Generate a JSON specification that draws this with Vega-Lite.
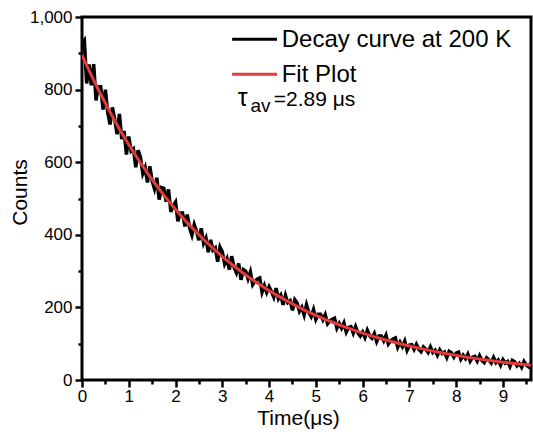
{
  "$schema": "https://vega.github.io/schema/vega-lite/v6.json",
  "width": 449,
  "height": 363,
  "autosize": {"type": "none"},
  "padding": {"left": 82, "top": 17, "right": 2, "bottom": 56},
  "background": "white",
  "config": {
    "font": "Liberation Sans",
    "view": {"stroke": "black", "strokeWidth": 3},
    "axis": {"grid": false, "domain": false, "tickColor": "black", "tickWidth": 2.5, "labelColor": "black", "titleColor": "black", "labelFont": "Liberation Sans", "titleFont": "Liberation Sans", "titleFontWeight": "normal"}
  },
  "datasets": {
    "decay": [
      {"t":0.00,"counts":928},{"t":0.05,"counts":936},{"t":0.10,"counts":817},{"t":0.15,"counts":869},{"t":0.20,"counts":812},{"t":0.25,"counts":870},{"t":0.30,"counts":770},{"t":0.35,"counts":808},{"t":0.40,"counts":808},{"t":0.45,"counts":745},
      {"t":0.50,"counts":800},{"t":0.55,"counts":737},{"t":0.60,"counts":704},{"t":0.65,"counts":751},{"t":0.70,"counts":718},{"t":0.75,"counts":677},{"t":0.80,"counts":733},{"t":0.85,"counts":664},{"t":0.90,"counts":686},{"t":0.95,"counts":621},
      {"t":1.00,"counts":671},{"t":1.05,"counts":631},{"t":1.10,"counts":637},{"t":1.15,"counts":586},{"t":1.20,"counts":633},{"t":1.25,"counts":614},{"t":1.30,"counts":569},{"t":1.35,"counts":585},{"t":1.40,"counts":544},{"t":1.45,"counts":589},
      {"t":1.50,"counts":548},{"t":1.55,"counts":527},{"t":1.60,"counts":557},{"t":1.65,"counts":497},{"t":1.70,"counts":530},{"t":1.75,"counts":528},{"t":1.80,"counts":491},{"t":1.85,"counts":525},{"t":1.90,"counts":463},{"t":1.95,"counts":480},
      {"t":2.00,"counts":490},{"t":2.05,"counts":437},{"t":2.10,"counts":460},{"t":2.15,"counts":460},{"t":2.20,"counts":423},{"t":2.25,"counts":456},{"t":2.30,"counts":419},{"t":2.35,"counts":399},{"t":2.40,"counts":428},{"t":2.45,"counts":409},
      {"t":2.50,"counts":385},{"t":2.55,"counts":418},{"t":2.60,"counts":377},{"t":2.65,"counts":391},{"t":2.70,"counts":352},{"t":2.75,"counts":386},{"t":2.80,"counts":358},{"t":2.85,"counts":364},{"t":2.90,"counts":326},{"t":2.95,"counts":366},
      {"t":3.00,"counts":353},{"t":3.05,"counts":320},{"t":3.10,"counts":334},{"t":3.15,"counts":304},{"t":3.20,"counts":341},{"t":3.25,"counts":311},{"t":3.30,"counts":296},{"t":3.35,"counts":321},{"t":3.40,"counts":276},{"t":3.45,"counts":304},
      {"t":3.50,"counts":300},{"t":3.55,"counts":279},{"t":3.60,"counts":298},{"t":3.65,"counts":263},{"t":3.70,"counts":273},{"t":3.75,"counts":278},{"t":3.80,"counts":281},{"t":3.85,"counts":242},{"t":3.90,"counts":260},{"t":3.95,"counts":241},
      {"t":4.00,"counts":257},{"t":4.05,"counts":244},{"t":4.10,"counts":228},{"t":4.15,"counts":253},{"t":4.20,"counts":224},{"t":4.25,"counts":234},{"t":4.30,"counts":207},{"t":4.35,"counts":233},{"t":4.40,"counts":213},{"t":4.45,"counts":218},
      {"t":4.50,"counts":192},{"t":4.55,"counts":221},{"t":4.60,"counts":212},{"t":4.65,"counts":189},{"t":4.70,"counts":200},{"t":4.75,"counts":179},{"t":4.80,"counts":207},{"t":4.85,"counts":186},{"t":4.90,"counts":175},{"t":4.95,"counts":194},
      {"t":5.00,"counts":167},{"t":5.05,"counts":181},{"t":5.10,"counts":181},{"t":5.15,"counts":166},{"t":5.20,"counts":180},{"t":5.25,"counts":155},{"t":5.30,"counts":163},{"t":5.35,"counts":167},{"t":5.40,"counts":170},{"t":5.45,"counts":143},
      {"t":5.50,"counts":156},{"t":5.55,"counts":143},{"t":5.60,"counts":157},{"t":5.65,"counts":132},{"t":5.70,"counts":145},{"t":5.75,"counts":147},{"t":5.80,"counts":129},{"t":5.85,"counts":147},{"t":5.90,"counts":130},{"t":5.95,"counts":121},
      {"t":6.00,"counts":132},{"t":6.05,"counts":117},{"t":6.10,"counts":137},{"t":6.15,"counts":122},{"t":6.20,"counts":115},{"t":6.25,"counts":128},{"t":6.30,"counts":106},{"t":6.35,"counts":121},{"t":6.40,"counts":121},{"t":6.45,"counts":108},
      {"t":6.50,"counts":123},{"t":6.55,"counts":99},{"t":6.60,"counts":108},{"t":6.65,"counts":113},{"t":6.70,"counts":116},{"t":6.75,"counts":90},{"t":6.80,"counts":104},{"t":6.85,"counts":92},{"t":6.90,"counts":107},{"t":6.95,"counts":82},
      {"t":7.00,"counts":96},{"t":7.05,"counts":97},{"t":7.10,"counts":84},{"t":7.15,"counts":98},{"t":7.20,"counts":85},{"t":7.25,"counts":78},{"t":7.30,"counts":91},{"t":7.35,"counts":85},{"t":7.40,"counts":76},{"t":7.45,"counts":91},
      {"t":7.50,"counts":76},{"t":7.55,"counts":82},{"t":7.60,"counts":68},{"t":7.65,"counts":83},{"t":7.70,"counts":73},{"t":7.75,"counts":77},{"t":7.80,"counts":62},{"t":7.85,"counts":79},{"t":7.90,"counts":75},{"t":7.95,"counts":63},
      {"t":8.00,"counts":74},{"t":8.05,"counts":77},{"t":8.10,"counts":57},{"t":8.15,"counts":68},{"t":8.20,"counts":59},{"t":8.25,"counts":71},{"t":8.30,"counts":52},{"t":8.35,"counts":63},{"t":8.40,"counts":65},{"t":8.45,"counts":52},
      {"t":8.50,"counts":67},{"t":8.55,"counts":54},{"t":8.60,"counts":48},{"t":8.65,"counts":61},{"t":8.70,"counts":55},{"t":8.75,"counts":47},{"t":8.80,"counts":62},{"t":8.85,"counts":48},{"t":8.90,"counts":55},{"t":8.95,"counts":41},
      {"t":9.00,"counts":56},{"t":9.05,"counts":46},{"t":9.10,"counts":51},{"t":9.15,"counts":37},{"t":9.20,"counts":54},{"t":9.25,"counts":50},{"t":9.30,"counts":39},{"t":9.35,"counts":46},{"t":9.40,"counts":35},{"t":9.45,"counts":51},
      {"t":9.50,"counts":41},{"t":9.55,"counts":36},{"t":9.60,"counts":47}
    ],
    "fit": [
      {"t":0.0,"counts":895},{"t":0.2,"counts":839},{"t":0.4,"counts":787},{"t":0.6,"counts":738},{"t":0.8,"counts":691},{"t":1.0,"counts":648},{"t":1.2,"counts":608},{"t":1.4,"counts":570},{"t":1.6,"counts":534},{"t":1.8,"counts":501},
      {"t":2.0,"counts":470},{"t":2.2,"counts":440},{"t":2.4,"counts":413},{"t":2.6,"counts":387},{"t":2.8,"counts":363},{"t":3.0,"counts":340},{"t":3.2,"counts":319},{"t":3.4,"counts":299},{"t":3.6,"counts":280},{"t":3.8,"counts":263},
      {"t":4.0,"counts":246},{"t":4.2,"counts":231},{"t":4.4,"counts":216.5},{"t":4.6,"counts":203},{"t":4.8,"counts":190},{"t":5.0,"counts":178},{"t":5.2,"counts":167},{"t":5.4,"counts":157},{"t":5.6,"counts":147},{"t":5.8,"counts":138},
      {"t":6.0,"counts":129},{"t":6.2,"counts":121},{"t":6.4,"counts":113.5},{"t":6.6,"counts":106.5},{"t":6.8,"counts":100},{"t":7.0,"counts":93.6},{"t":7.2,"counts":87.8},{"t":7.4,"counts":82.3},{"t":7.6,"counts":77.1},{"t":7.8,"counts":72.3},
      {"t":8.0,"counts":67.8},{"t":8.2,"counts":63.5},{"t":8.4,"counts":59.6},{"t":8.6,"counts":55.9},{"t":8.8,"counts":52.4},{"t":9.0,"counts":49.1},{"t":9.2,"counts":46.0},{"t":9.4,"counts":43.1},{"t":9.6,"counts":40.4}
    ],
    "one": [{}]
  },
  "layer": [
    {
      "data": {"name": "decay"},
      "mark": {"type": "line", "strokeWidth": 3.5, "clip": true, "color": "#000000"},
      "encoding": {
        "x": {"field": "t", "type": "quantitative", "scale": {"domain": [0, 9.6], "nice": false, "zero": false},
              "axis": {"orient": "bottom", "values": [0,1,2,3,4,5,6,7,8,9], "tickSize": 7, "labelFontSize": 17, "labelPadding": 1, "labelFlush": false, "labelOverlap": false, "title": "Time(μs)", "titleFontSize": 21, "titlePadding": 3, "titleX": 216}},
        "y": {"field": "counts", "type": "quantitative", "scale": {"domain": [0, 1000], "nice": false},
              "axis": {"orient": "left", "values": [0,200,400,600,800,1000], "format": ",d", "tickSize": 7, "labelFontSize": 17, "labelPadding": 3, "labelFlush": false, "labelOverlap": false, "title": "Counts", "titleFontSize": 21, "titleX": -62, "titleY": 175, "titleBaseline": "middle"}}
      }
    },
    {
      "data": {"name": "fit"},
      "mark": {"type": "line", "strokeWidth": 3, "clip": true, "color": "#e63b3b"},
      "encoding": {
        "x": {"field": "t", "type": "quantitative",
              "axis": {"orient": "bottom", "values": [0.5,1.5,2.5,3.5,4.5,5.5,6.5,7.5,8.5,9.5], "tickSize": 4, "labels": false, "title": null}},
        "y": {"field": "counts", "type": "quantitative",
              "axis": {"orient": "left", "values": [100,300,500,700,900], "tickSize": 4, "labels": false, "title": null}}
      }
    },
    {
      "data": {"name": "one"},
      "mark": {"type": "rule", "strokeWidth": 3, "color": "#000000"},
      "encoding": {"x": {"datum": 3.21, "type": "quantitative", "axis": null}, "x2": {"datum": 4.17}, "y": {"datum": 939, "type": "quantitative", "axis": null}}
    },
    {
      "data": {"name": "one"},
      "mark": {"type": "rule", "strokeWidth": 3, "color": "#e63b3b"},
      "encoding": {"x": {"datum": 3.21, "type": "quantitative", "axis": null}, "x2": {"datum": 4.17}, "y": {"datum": 842, "type": "quantitative", "axis": null}}
    },
    {
      "data": {"name": "one"},
      "mark": {"type": "text", "text": "Decay curve at 200 K", "fontSize": 24, "align": "left", "baseline": "middle", "color": "black"},
      "encoding": {"x": {"datum": 4.27, "type": "quantitative", "axis": null}, "y": {"datum": 937, "type": "quantitative", "axis": null}}
    },
    {
      "data": {"name": "one"},
      "mark": {"type": "text", "text": "Fit Plot", "fontSize": 24, "align": "left", "baseline": "middle", "color": "black"},
      "encoding": {"x": {"datum": 4.27, "type": "quantitative", "axis": null}, "y": {"datum": 840, "type": "quantitative", "axis": null}}
    },
    {
      "data": {"name": "one"},
      "mark": {"type": "text", "text": "τ", "fontSize": 25, "align": "left", "baseline": "alphabetic", "color": "black"},
      "encoding": {"x": {"datum": 3.33, "type": "quantitative", "axis": null}, "y": {"datum": 755, "type": "quantitative", "axis": null}}
    },
    {
      "data": {"name": "one"},
      "mark": {"type": "text", "text": "av", "fontSize": 19, "align": "left", "baseline": "alphabetic", "color": "black"},
      "encoding": {"x": {"datum": 3.6, "type": "quantitative", "axis": null}, "y": {"datum": 738, "type": "quantitative", "axis": null}}
    },
    {
      "data": {"name": "one"},
      "mark": {"type": "text", "text": "=2.89 μs", "fontSize": 21, "align": "left", "baseline": "alphabetic", "color": "black"},
      "encoding": {"x": {"datum": 4.1, "type": "quantitative", "axis": null}, "y": {"datum": 755, "type": "quantitative", "axis": null}}
    }
  ],
  "resolve": {"axis": {"x": "independent", "y": "independent"}}
}
